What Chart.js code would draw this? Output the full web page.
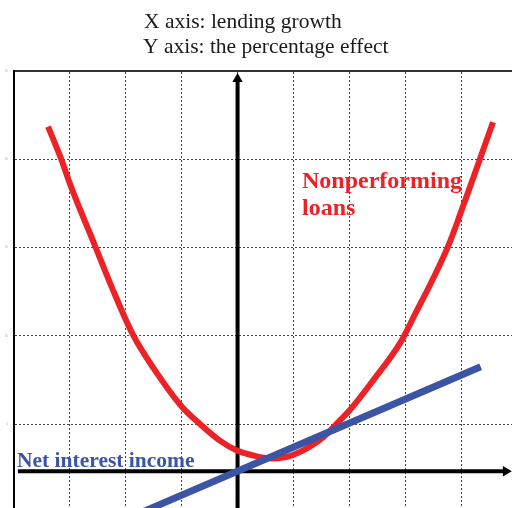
<!DOCTYPE html>
<html>
<head>
<meta charset="utf-8">
<script src="https://cdn.jsdelivr.net/npm/chart.js@4/dist/chart.umd.min.js"></script>
<style>
  html, body { margin: 0; padding: 0; background: #fff; overflow: hidden; }
</style>
</head>
<body>
<canvas id="chart" width="512" height="508"></canvas>
<script>
const titleLines = ['X axis: lending growth', 'Y axis: the percentage effect'];

// nonperforming loans curve (x = lending growth, y = effect)
const nplX = [-3.39, -3.16, -2.98, -2.55, -2.23, -1.87, -1.51, -1.00, -0.67, -0.31, -0.01, 0.31, 0.63, 0.99, 1.53, 1.78, 2.01, 2.42, 2.91, 3.14, 3.77, 3.99, 4.34, 4.57];
const nplY = [4.37, 4.01, 3.69, 3.02, 2.52, 2.01, 1.64, 1.20, 1.00, 0.81, 0.70, 0.64, 0.61, 0.65, 0.85, 1.01, 1.16, 1.49, 1.92, 2.20, 3.02, 3.39, 4.01, 4.42];

// net interest income line
const niiX = [-1.70, 4.35];
const niiY = [0.005, 1.65];

// drawn axes
const hAxisX = [-3.93, 4.80];
const hAxisY = [0.467, 0.467];
const vAxisX = [0, 0];
const vAxisY = [-0.1, 4.91];

const xGrid = [-4, -3, -2, -1, 0, 1, 2, 3, 4];
const yGrid = [1, 2, 3, 4, 5];
const yTickLabels = ['5', '10', '15', '20', '25'];

function pts(xs, ys) {
  return xs.map((x, i) => ({ x: x, y: ys[i] }));
}

const textPlugin = {
  id: 'texts',
  afterDatasetsDraw(chart) {
    const ctx = chart.ctx;
    ctx.save();
    ctx.textBaseline = 'alphabetic';
    ctx.textAlign = 'left';
    ctx.fillStyle = '#1a1a1a';
    ctx.font = '21.5px "Liberation Serif"';
    ctx.fillText(titleLines[0], 144, 28);
    ctx.fillText(titleLines[1], 143, 53);

    ctx.fillStyle = '#ec2227';
    ctx.font = 'bold 24px "Liberation Serif"';
    ctx.fillText('Nonperforming', 302, 188);
    ctx.fillText('loans', 302, 215);

    ctx.fillStyle = '#3a55a8';
    ctx.font = 'bold 21.5px "Liberation Serif"';
    ctx.fillText('Net interest income', 17, 467);
    ctx.restore();
  }
};

const data = {
  datasets: [
    {
      label: 'Net interest income',
      data: pts(niiX, niiY),
      showLine: true,
      borderColor: '#3b54a4',
      borderWidth: 7,
      pointRadius: 0
    },
    {
      label: 'Nonperforming loans',
      data: pts(nplX, nplY),
      showLine: true,
      borderColor: '#ec2227',
      borderWidth: 6,
      pointRadius: 0,
      cubicInterpolationMode: 'monotone'
    },
    {
      label: 'x axis',
      data: pts(hAxisX, hAxisY),
      showLine: true,
      borderColor: '#000',
      borderWidth: 4,
      pointRadius: [0, 6],
      pointStyle: 'triangle',
      rotation: 90,
      pointBackgroundColor: '#000',
      pointBorderWidth: 0
    },
    {
      label: 'y axis',
      data: pts(vAxisX, vAxisY),
      showLine: true,
      borderColor: '#000',
      borderWidth: 4,
      pointRadius: [0, 6],
      pointStyle: 'triangle',
      rotation: 0,
      pointBackgroundColor: '#000',
      pointBorderWidth: 0
    }
  ]
};

const config = {
  type: 'scatter',
  data: data,
  plugins: [textPlugin],
  options: {
    responsive: false,
    animation: false,
    layout: { padding: 0, autoPadding: false },
    plugins: {
      legend: { display: false },
      title: { display: false },
      tooltip: { enabled: false }
    },
    scales: {
      x: {
        type: 'linear',
        position: 'top',
        min: -4,
        max: 4.91,
        afterBuildTicks: (s) => { s.ticks = xGrid.map(v => ({ value: v })); },
        afterFit: (s) => { s.height = 71; },
        ticks: { display: false },
        grid: { color: '#444', lineWidth: 1, drawTicks: false },
        border: { display: true, color: '#333', width: 2, dash: [2, 2] }
      },
      y: {
        type: 'linear',
        min: 0.05,
        max: 5,
        afterBuildTicks: (s) => { s.ticks = yGrid.map(v => ({ value: v })); },
        afterFit: (s) => {
          s.width = 14;
          s.paddingTop = 0;
          s.paddingBottom = 0;
        },
        ticks: {
          padding: 6,
          color: '#aaa',
          font: { size: 3 },
          callback: (v) => yTickLabels[yGrid.indexOf(v)]
        },
        grid: { color: '#444', lineWidth: 1, drawTicks: false },
        border: { display: true, color: '#000', width: 2, dash: [2, 2] }
      }
    }
  }
};

var ctx = document.getElementById('chart').getContext('2d');
var myChart = new Chart(ctx, config);
</script>
</body>
</html>
